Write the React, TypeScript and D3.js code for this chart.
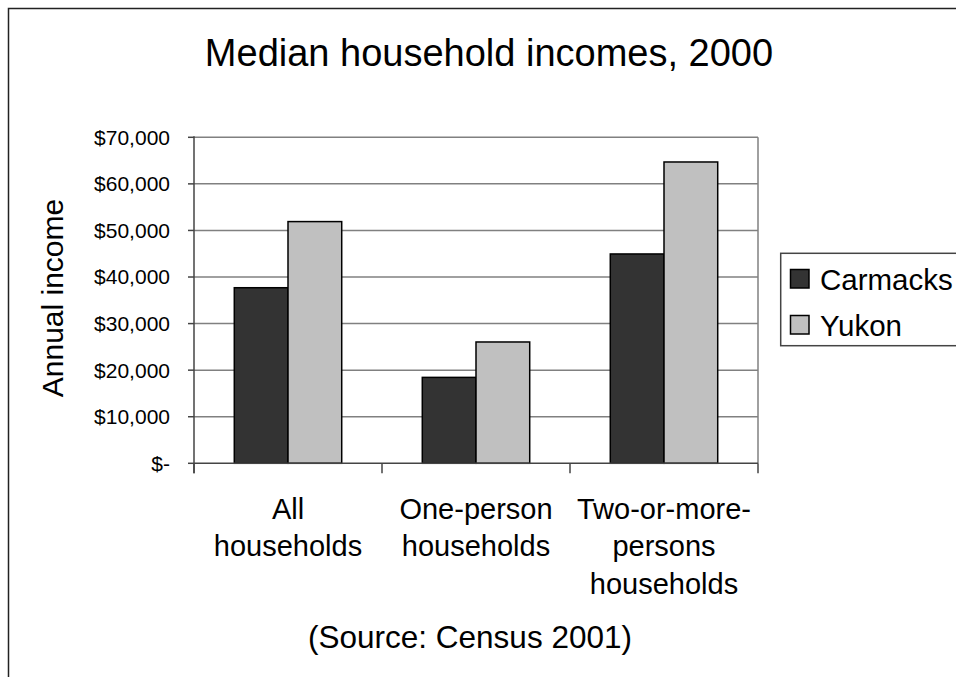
import React from "react";
import * as d3 from "d3";

const categories: string[][] = [
  ["All", "households"],
  ["One-person", "households"],
  ["Two-or-more-", "persons", "households"],
];
const seriesNames = ["Carmacks", "Yukon"];
const carmacks = [37700, 18450, 44950];
const yukon = [51900, 26050, 64700];
const yTicks = [0, 10000, 20000, 30000, 40000, 50000, 60000, 70000];
const title = "Median household incomes, 2000";
const yTitle = "Annual income";
const source = "(Source: Census 2001)";

const W = 956;
const H = 677;
const FONT = "'Liberation Sans', Arial, sans-serif";
const colors = ["#333333", "#c0c0c0"];

export default function App() {
  const left = 194;
  const right = 758;
  const top = 137.3;
  const bottom = 463.3;

  const x = d3.scaleBand<number>().domain(d3.range(categories.length)).range([left, right]).paddingInner(0).paddingOuter(0);
  const y = d3.scaleLinear().domain([0, 70000]).range([bottom, top]);
  const bw = x.bandwidth() / 3.5;
  const series = [carmacks, yukon];
  const fmt = (v: number) => (v === 0 ? "$-" : "$" + d3.format(",")(v));

  return (
    <svg width={W} height={H} style={{ position: "absolute", left: 0, top: 0 }} fontFamily={FONT}>
      <rect x={0} y={0} width={W} height={H} fill="#fff" />
      <rect x={8.5} y={8.5} width={1200} height={1200} fill="#fff" stroke="#222" strokeWidth={1.5} />
      <text x={489} y={66} textAnchor="middle" fontSize={38}>{title}</text>

      {yTicks.map((t) => (
        <g key={t}>
          {t > 0 && <line x1={left} x2={right} y1={y(t)} y2={y(t)} stroke="#808080" strokeWidth={1.5} />}
          <line x1={left - 6} x2={left} y1={y(t)} y2={y(t)} stroke="#444" strokeWidth={1.5} />
          <text x={170} y={y(t)} dy="0.35em" textAnchor="end" fontSize={21}>{fmt(t)}</text>
        </g>
      ))}
      <line x1={right} x2={right} y1={top} y2={bottom} stroke="#808080" strokeWidth={1.5} />

      {series.map((vals, si) =>
        vals.map((v, ci) => (
          <rect
            key={si + "-" + ci}
            x={(x(ci) as number) + bw * 0.75 + si * bw}
            y={y(v)}
            width={bw}
            height={bottom - y(v)}
            fill={colors[si]}
            stroke="#000"
            strokeWidth={1.5}
          />
        ))
      )}

      <line x1={left} x2={left} y1={top - 1} y2={bottom + 10} stroke="#444" strokeWidth={1.5} />
      <line x1={left} x2={right} y1={bottom} y2={bottom} stroke="#444" strokeWidth={1.5} />
      {d3.range(categories.length + 1).map((i) => {
        const xx = left + i * x.bandwidth();
        return <line key={i} x1={xx} x2={xx} y1={bottom} y2={bottom + 10} stroke="#444" strokeWidth={1.5} />;
      })}

      {categories.map((lines, ci) => (
        <text key={ci} x={(x(ci) as number) + x.bandwidth() / 2} y={519} textAnchor="middle" fontSize={29}>
          {lines.map((l, li) => (
            <tspan key={li} x={(x(ci) as number) + x.bandwidth() / 2} dy={li === 0 ? 0 : 37.3}>{l}</tspan>
          ))}
        </text>
      ))}

      <text transform={`translate(63,298) rotate(-90)`} textAnchor="middle" fontSize={30}>{yTitle}</text>
      <text x={470} y={648} textAnchor="middle" fontSize={31.5}>{source}</text>

      <rect x={780.7} y={253.3} width={300} height={92.4} fill="#fff" stroke="#444" strokeWidth={1.5} />
      {seriesNames.map((n, i) => (
        <g key={n}>
          <rect x={790.5} y={269.5 + i * 46} width={18.5} height={18.5} fill={colors[i]} stroke="#000" strokeWidth={1.5} />
          <text x={820} y={279 + i * 46} dy="0.36em" fontSize={29.5}>{n}</text>
        </g>
      ))}
    </svg>
  );
}
